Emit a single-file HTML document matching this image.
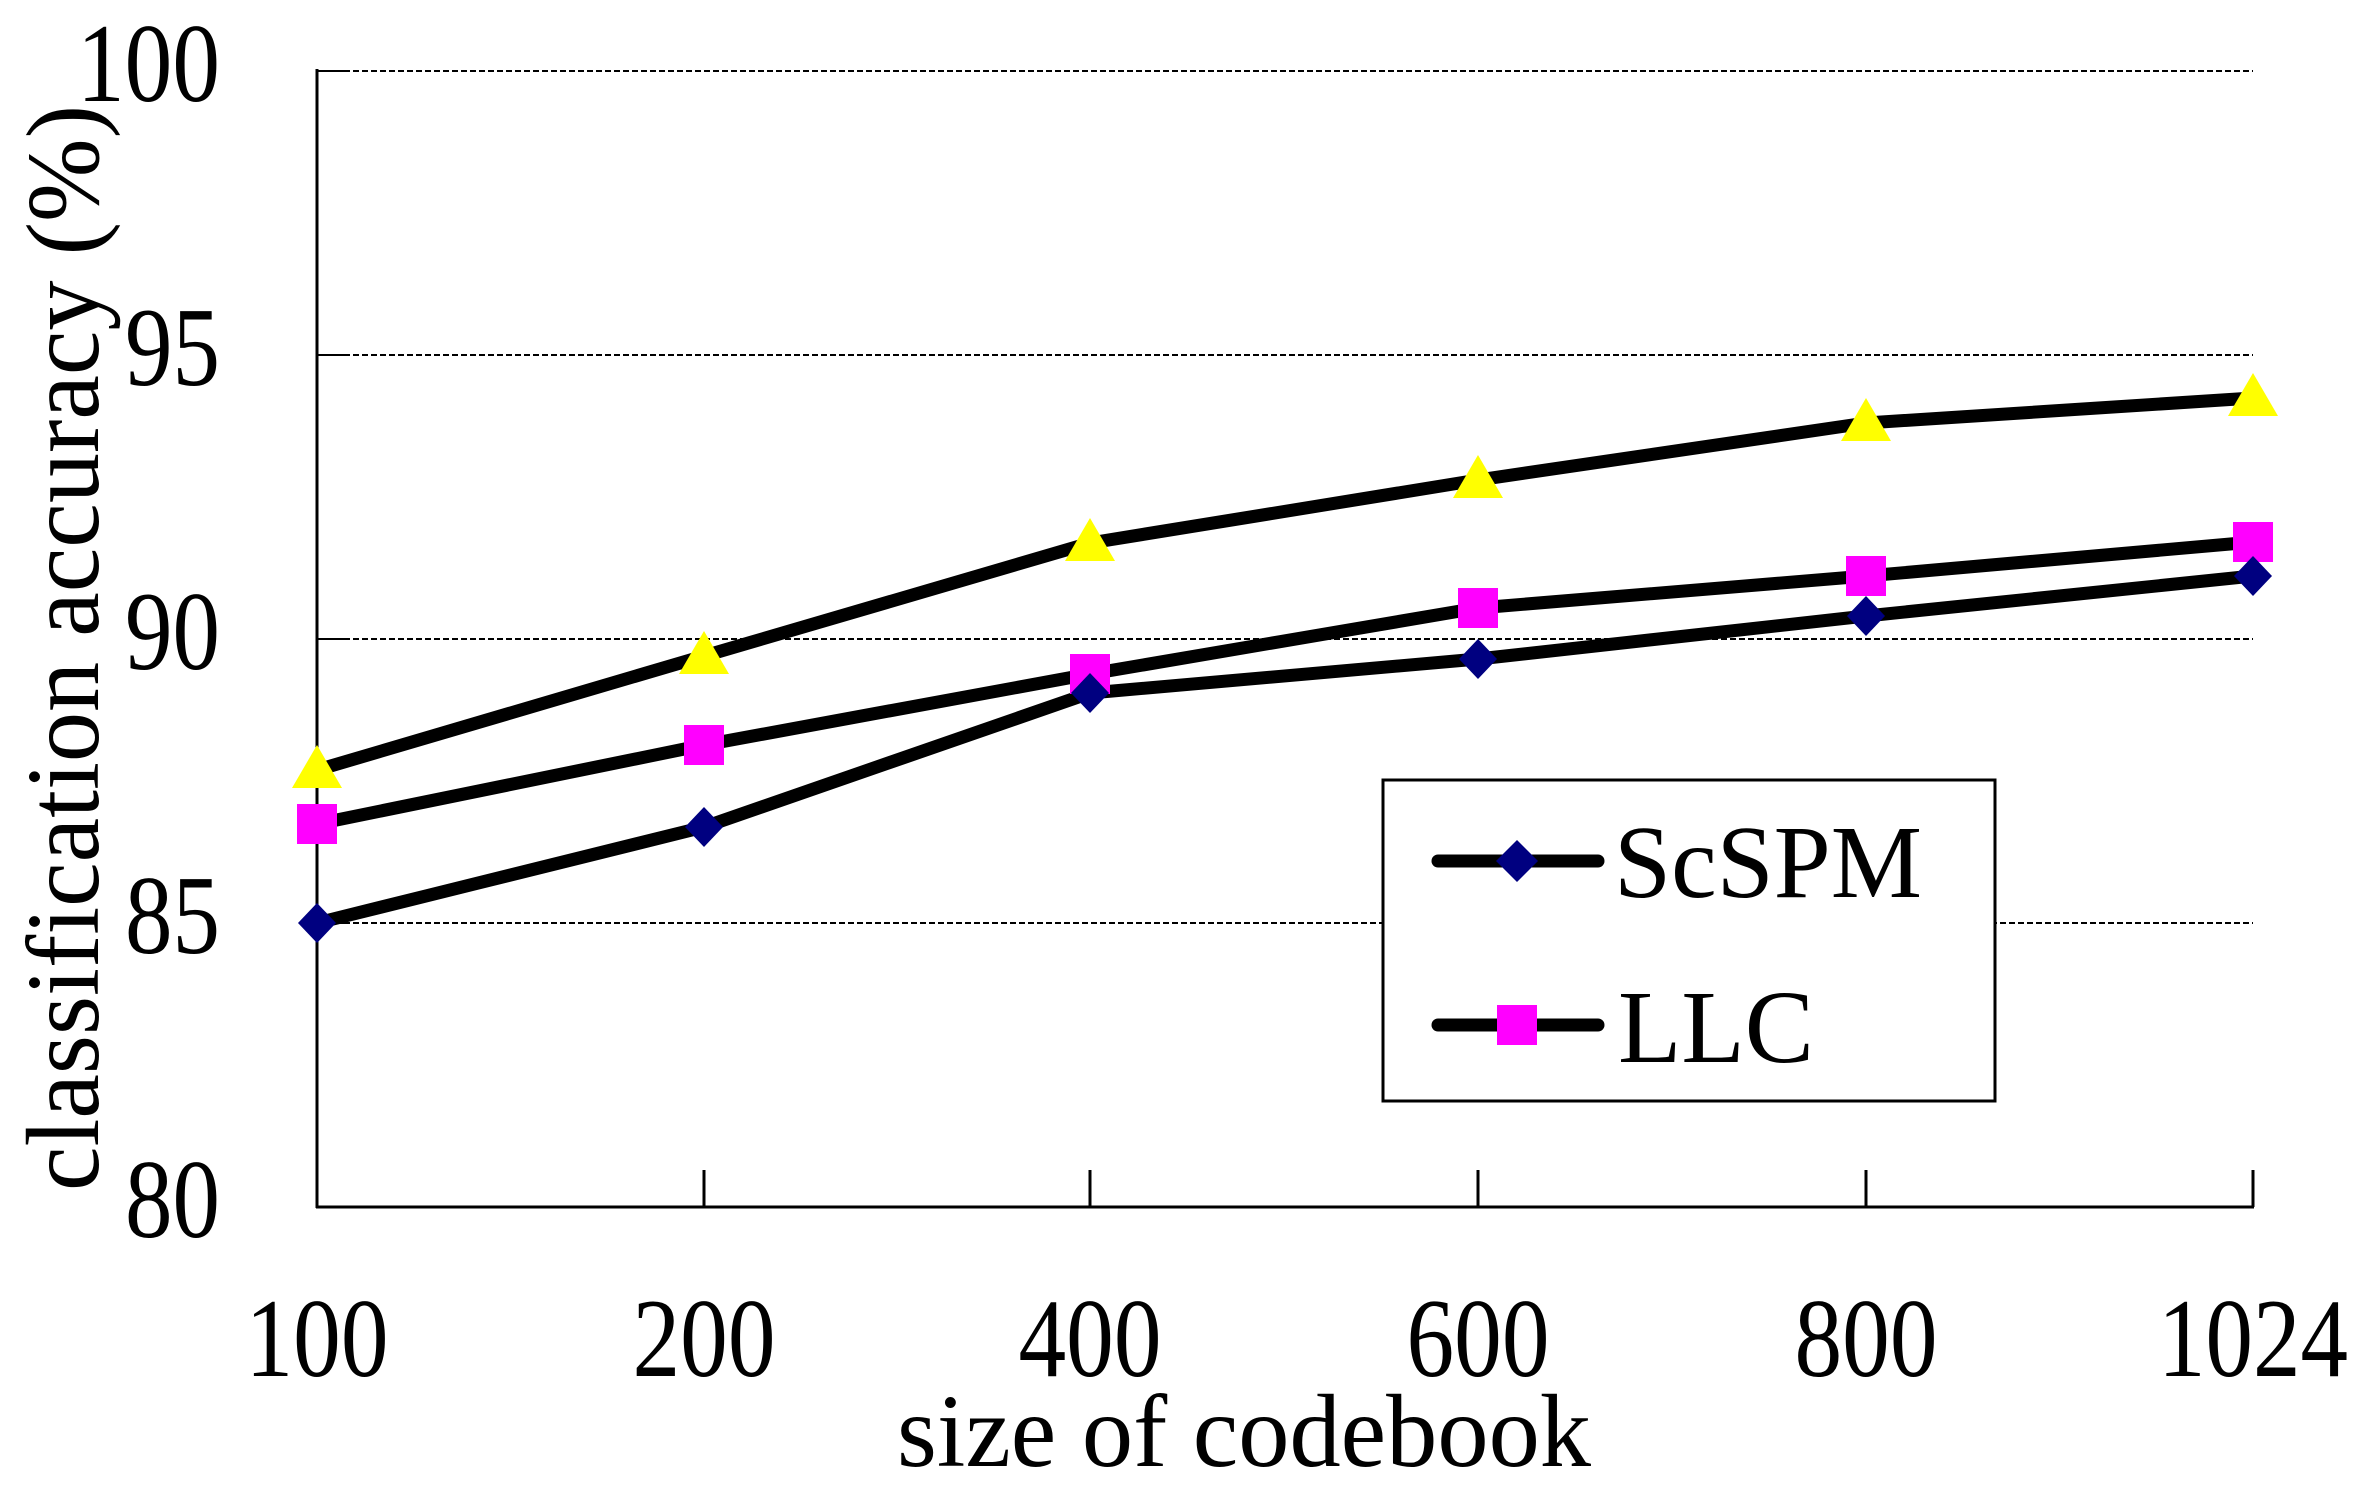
<!DOCTYPE html>
<html><head><meta charset="utf-8"><style>
html,body{margin:0;padding:0;background:#fff;}
svg{display:block;}
text{font-family:"Liberation Serif",serif;fill:#000;}
</style></head><body>
<svg width="2359" height="1491" viewBox="0 0 2359 1491" xmlns="http://www.w3.org/2000/svg">
<!-- gridlines -->
<g stroke="#000" stroke-width="2">
<line x1="317" y1="71" x2="2253" y2="71" stroke-dasharray="6,3"/>
<line x1="317" y1="355" x2="2253" y2="355" stroke-dasharray="6,3"/>
<line x1="317" y1="639" x2="2253" y2="639" stroke-dasharray="6,3"/>
<line x1="317" y1="923" x2="2253" y2="923" stroke-dasharray="6,3"/>
<line x1="317" y1="71" x2="345" y2="71"/>
<line x1="317" y1="355" x2="345" y2="355"/>
<line x1="317" y1="639" x2="345" y2="639"/>
<line x1="317" y1="923" x2="345" y2="923"/>
</g>
<g stroke="#000" stroke-width="3" fill="none">
<line x1="317" y1="69" x2="317" y2="1208"/>
<line x1="316" y1="1207" x2="2254" y2="1207"/>
<line x1="704" y1="1207" x2="704" y2="1170"/>
<line x1="1090" y1="1207" x2="1090" y2="1170"/>
<line x1="1478" y1="1207" x2="1478" y2="1170"/>
<line x1="1866" y1="1207" x2="1866" y2="1170"/>
<line x1="2253" y1="1207" x2="2253" y2="1170"/>
</g>
<!-- legend box -->
<rect x="1383" y="780" width="612" height="321" fill="#fff" stroke="#000" stroke-width="3"/>
<!-- series lines -->
<g stroke="#000" stroke-width="13" fill="none" stroke-linejoin="round" stroke-linecap="round">
<polyline points="317,770 704,656 1090,543 1478,480 1866,423 2253,398"/>
<polyline points="317,824 704,745 1090,674 1478,608 1866,576 2253,542"/>
<polyline points="317,923 704,827 1090,693 1478,659 1866,616 2253,576"/>
<line x1="1438" y1="861" x2="1598" y2="861"/>
<line x1="1438" y1="1025" x2="1598" y2="1025"/>
</g>
<!-- markers -->
<g fill="#ffff00">
<polygon points="317,745 342,788 292,788"/>
<polygon points="704,631 729,674 679,674"/>
<polygon points="1090,518 1115,561 1065,561"/>
<polygon points="1478,455 1503,498 1453,498"/>
<polygon points="1866,398 1891,441 1841,441"/>
<polygon points="2253,373 2278,416 2228,416"/>
</g>
<g fill="#ff00ff">
<rect x="297" y="804" width="40" height="40"/>
<rect x="684" y="725" width="40" height="40"/>
<rect x="1070" y="654" width="40" height="40"/>
<rect x="1458" y="588" width="40" height="40"/>
<rect x="1846" y="556" width="40" height="40"/>
<rect x="2233" y="522" width="40" height="40"/>
<rect x="1497" y="1005" width="40" height="40"/>
</g>
<g fill="#000080">
<polygon points="317,903 336,923 317,943 298,923"/>
<polygon points="704,807 723,827 704,847 685,827"/>
<polygon points="1090,673 1109,693 1090,713 1071,693"/>
<polygon points="1478,639 1497,659 1478,679 1459,659"/>
<polygon points="1866,596 1885,616 1866,636 1847,616"/>
<polygon points="2253,556 2272,576 2253,596 2234,576"/>
<polygon points="1517,840 1538,861 1517,882 1496,861"/>
</g>
<!-- y tick labels -->
<g font-size="112" text-anchor="end">
<text x="220" y="101" textLength="143" lengthAdjust="spacingAndGlyphs">100</text>
<text x="220" y="385" textLength="95" lengthAdjust="spacingAndGlyphs">95</text>
<text x="220" y="669" textLength="95" lengthAdjust="spacingAndGlyphs">90</text>
<text x="220" y="953" textLength="95" lengthAdjust="spacingAndGlyphs">85</text>
<text x="220" y="1237" textLength="95" lengthAdjust="spacingAndGlyphs">80</text>
</g>
<!-- x tick labels -->
<g font-size="112" text-anchor="middle">
<text x="317" y="1376" textLength="143" lengthAdjust="spacingAndGlyphs">100</text>
<text x="704" y="1376" textLength="143" lengthAdjust="spacingAndGlyphs">200</text>
<text x="1090" y="1376" textLength="143" lengthAdjust="spacingAndGlyphs">400</text>
<text x="1478" y="1376" textLength="143" lengthAdjust="spacingAndGlyphs">600</text>
<text x="1866" y="1376" textLength="143" lengthAdjust="spacingAndGlyphs">800</text>
<text x="2253" y="1376" textLength="190" lengthAdjust="spacingAndGlyphs">1024</text>
</g>
<text x="1244" y="1466" font-size="104" text-anchor="middle" textLength="694" lengthAdjust="spacingAndGlyphs">size of codebook</text>
<text transform="translate(98,648) rotate(-90)" font-size="104" text-anchor="middle" textLength="1086" lengthAdjust="spacingAndGlyphs">classification accuracy (%)</text>
<!-- legend text -->
<text x="1614" y="897" font-size="104" textLength="308" lengthAdjust="spacingAndGlyphs">ScSPM</text>
<text x="1618" y="1062" font-size="104" textLength="196" lengthAdjust="spacingAndGlyphs">LLC</text>
</svg>
</body></html>
